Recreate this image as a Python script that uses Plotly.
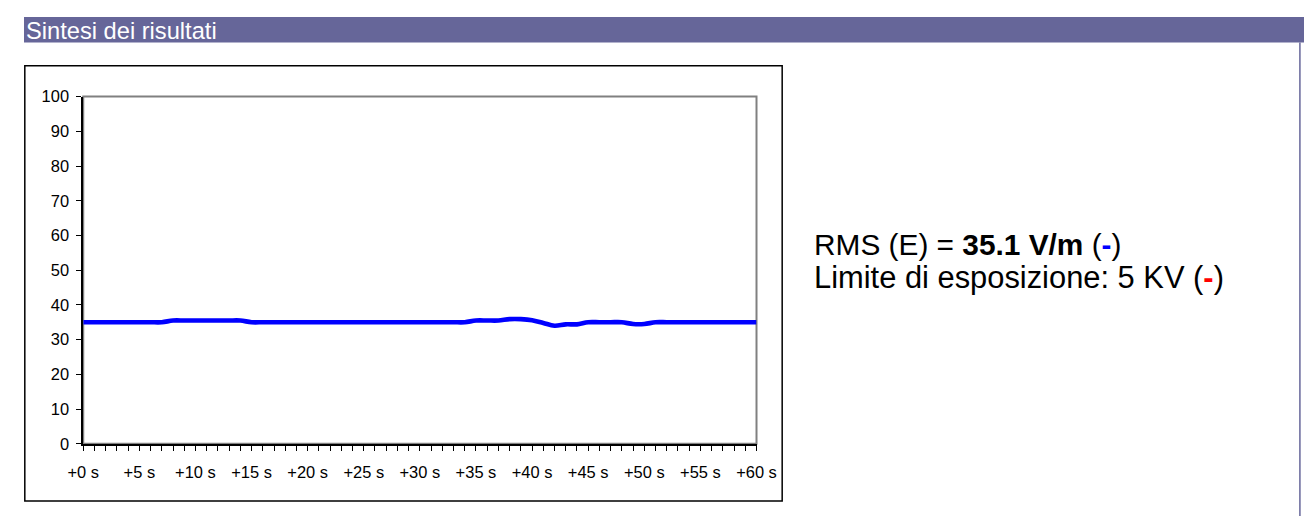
# sintesi dei risultati: andamento RMS del campo E nel tempo
import plotly.graph_objects as go

W, H = 1330, 530
# correzione tra coordinate della figura e coordinate della foto
SX, OX = 0.974, 14.9
SY, OY = 0.969, 6.7
K = 1 / 0.972

# secondi di misura e valori RMS (V/m)
seconds = list(range(0, 61))
rms_values = [35.0, 35.0, 35.0, 35.0, 35.0, 35.0, 35.0, 35.0,
              35.5, 35.5, 35.5, 35.5, 35.5, 35.5, 35.5,
              35.0, 35.0, 35.0, 35.0, 35.0, 35.0, 35.0, 35.0, 35.0, 35.0,
              35.0, 35.0, 35.0, 35.0, 35.0, 35.0, 35.0, 35.0, 35.0, 35.0,
              35.5, 35.5, 35.5,
              35.9, 35.9, 35.6, 34.8, 34.0, 34.4, 34.4,
              35.0, 35.0, 35.0, 35.0,
              34.5, 34.5,
              35.0, 35.0, 35.0, 35.0, 35.0, 35.0, 35.0, 35.0, 35.0, 35.0]

label_seconds = [0, 5, 10, 15, 20, 25, 30, 35, 40, 45, 50, 55, 60]
label_texts = ["+0 s", "+5 s", "+10 s", "+15 s", "+20 s", "+25 s", "+30 s",
               "+35 s", "+40 s", "+45 s", "+50 s", "+55 s", "+60 s"]
y_ticks = [0, 10, 20, 30, 40, 50, 60, 70, 80, 90, 100]

rms_text = "35.1 V/m"
limit_text = "5 KV"


def px_x(x):
    lx = (x - OX) / SX - 8
    return min(max(lx / W, 0), 1)


def px_y(y):
    ly = (y - OY) / SY - 8
    return min(max(1 - ly / H, 0), 1)


lab = dict(zip(label_seconds, label_texts))
ticktext = [lab.get(s, "") for s in seconds]

fig = go.Figure()
fig.add_trace(go.Scatter(x=seconds, y=rms_values, mode='lines',
                         line=dict(color='#0000FF', width=4.5 * K, shape='spline', smoothing=1),
                         hoverinfo='skip', showlegend=False))

font = "Liberation Sans, Arial, sans-serif"
fig.update_layout(
    width=W, height=H,
    margin=dict(l=0, r=0, t=0, b=0),
    paper_bgcolor='white', plot_bgcolor='white',
    font=dict(family=font, color='black', size=16 * K),
    xaxis=dict(domain=[px_x(82), px_x(756)], range=[0, 60],
               tickmode='array', tickvals=seconds, ticktext=ticktext,
               ticks='outside', ticklen=5 * K, tickcolor='black', tickwidth=1,
               showline=True, linecolor='black', linewidth=1.5,
               showgrid=False, zeroline=False, ticklabelstandoff=8,
               tickangle=0),
    yaxis=dict(domain=[px_y(442.5), px_y(94.3)], range=[0, 100],
               tickmode='array', tickvals=y_ticks,
               ticks='outside', ticklen=5 * K, tickcolor='black', tickwidth=1,
               showline=True, linecolor='black', linewidth=1.5,
               showgrid=False, zeroline=False, ticklabelstandoff=4),
)

# barra del titolo e bordo destro del pannello
fig.add_shape(type='rect', xref='paper', yref='paper',
              x0=px_x(5), x1=px_x(1312), y0=px_y(40), y1=px_y(2),
              fillcolor='#666699', line_width=0, layer='below')
fig.add_shape(type='line', xref='paper', yref='paper',
              x0=px_x(1300), x1=px_x(1300), y0=px_y(40), y1=px_y(516),
              line=dict(color='#666699', width=1.5))
fig.add_annotation(x=px_x(15), y=px_y(28.5), xref='paper', yref='paper',
                   text="Sintesi dei risultati", showarrow=False,
                   xanchor='left', yanchor='middle',
                   font=dict(color='white', size=23 * K, family=font))

# cornice del grafico e area del tracciato
fig.add_shape(type='rect', xref='paper', yref='paper',
              x0=px_x(23.5), x1=px_x(781.7), y0=px_y(500), y1=px_y(63.3),
              line=dict(color='black', width=1.5), layer='below')
fig.add_shape(type='rect', xref='paper', yref='paper',
              x0=px_x(82), x1=px_x(756), y0=px_y(442.5), y1=px_y(94.3),
              line=dict(color='#808080', width=2), layer='below')

# testo riassuntivo
fig.add_annotation(x=px_x(812), y=px_y(243), xref='paper', yref='paper',
                   text="RMS (E) = <b>" + rms_text + "</b> (<b><span style='color:#0000FF'>-</span></b>)",
                   showarrow=False, xanchor='left', yanchor='middle',
                   font=dict(size=29 * K, family=font, color='black'))
fig.add_annotation(x=px_x(812), y=px_y(276), xref='paper', yref='paper',
                   text="Limite di esposizione: " + limit_text + " (<b><span style='color:#FF0000'>-</span></b>)",
                   showarrow=False, xanchor='left', yanchor='middle',
                   font=dict(size=30 * K, family=font, color='black'))

fig.write_html("out.html")
